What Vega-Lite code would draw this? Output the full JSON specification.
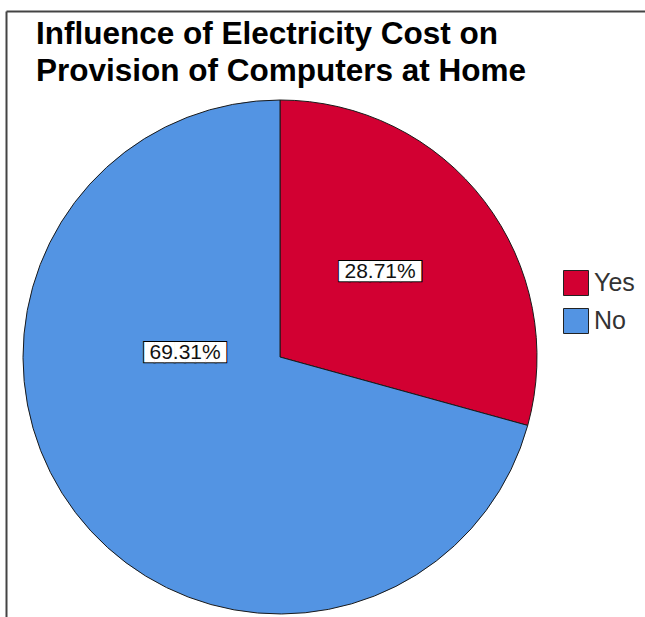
{
  "$schema": "https://vega.github.io/schema/vega-lite/v6.json",
  "autosize": {"type": "none"},
  "padding": {"left": 6, "top": 11, "right": 91, "bottom": -86},
  "width": 548,
  "height": 692,
  "background": "white",
  "config": {"view": {"stroke": null}, "font": "Liberation Sans"},
  "title": {
    "text": ["Influence of Electricity Cost on", "Provision of Computers at Home"],
    "anchor": "start",
    "frame": "group",
    "orient": "top",
    "offset": -36,
    "dy": 65,
    "baseline": "alphabetic",
    "lineHeight": 37,
    "dx": 30,
    "font": "Liberation Sans",
    "fontSize": 31.5,
    "fontWeight": "bold",
    "color": "#000000"
  },
  "data": {
    "values": [
      {"cat": "Yes", "pct": 0.2871, "k": 1},
      {"cat": "No", "pct": 0.6931, "k": 2}
    ]
  },
  "layer": [
    {
      "mark": {"type": "point", "opacity": 0},
      "encoding": {
        "x": {"field": "pct", "type": "quantitative", "scale": {"range": [0, 700]},
          "axis": {"orient": "top", "domainColor": "#444444", "domainWidth": 2, "labels": false, "ticks": false, "grid": false, "title": null}},
        "y": {"field": "pct", "type": "quantitative", "scale": {"range": [700, 0]},
          "axis": {"orient": "left", "domainColor": "#444444", "domainWidth": 2, "labels": false, "ticks": false, "grid": false, "title": null}}
      }
    },
    {
      "encoding": {
        "theta": {"field": "pct", "type": "quantitative", "stack": true},
        "order": {"field": "k", "type": "quantitative"}
      },
      "layer": [
        {
          "mark": {"type": "arc", "radius": 257, "stroke": "#1a1a1a", "strokeWidth": 1},
          "encoding": {
            "color": {
              "field": "cat", "type": "nominal",
              "scale": {"domain": ["Yes", "No"], "range": ["#D20032", "#5394E3"]},
              "legend": {
                "orient": "none", "legendX": 557, "legendY": 259, "title": null,
                "padding": 0, "symbolType": "square", "symbolSize": 625,
                "symbolStrokeColor": "#222222", "symbolStrokeWidth": 1,
                "labelFont": "Liberation Sans", "labelFontSize": 25, "labelColor": "#333333",
                "labelOffset": 5, "rowPadding": 8
              }
            }
          }
        },
        {
          "mark": {"type": "text", "text": "████████", "font": "DejaVu Sans Mono", "fontSize": 17, "fill": "#000000", "stroke": "#000000", "strokeWidth": 2, "radius": 131, "thetaOffset": -0.051, "align": "center", "baseline": "middle"},
          "encoding": {"opacity": {"condition": {"test": "datum.cat === 'Yes'", "value": 1}, "value": 0}}
        },
        {
          "mark": {"type": "text", "text": "████████", "font": "DejaVu Sans Mono", "fontSize": 17, "fill": "#ffffff", "radius": 131, "thetaOffset": -0.051, "align": "center", "baseline": "middle"},
          "encoding": {"opacity": {"condition": {"test": "datum.cat === 'Yes'", "value": 1}, "value": 0}}
        },
        {
          "mark": {"type": "text", "font": "Liberation Sans", "fontSize": 21, "color": "#111111", "radius": 131, "thetaOffset": -0.051, "align": "center", "baseline": "middle"},
          "encoding": {
            "text": {"field": "pct", "type": "quantitative", "format": ".2%"},
            "opacity": {"condition": {"test": "datum.cat === 'Yes'", "value": 1}, "value": 0}
          }
        },
        {
          "mark": {"type": "text", "text": "████████", "font": "DejaVu Sans Mono", "fontSize": 17, "fill": "#000000", "stroke": "#000000", "strokeWidth": 2, "radius": 95, "thetaOffset": 0.693, "align": "center", "baseline": "middle"},
          "encoding": {"opacity": {"condition": {"test": "datum.cat === 'No'", "value": 1}, "value": 0}}
        },
        {
          "mark": {"type": "text", "text": "████████", "font": "DejaVu Sans Mono", "fontSize": 17, "fill": "#ffffff", "radius": 95, "thetaOffset": 0.693, "align": "center", "baseline": "middle"},
          "encoding": {"opacity": {"condition": {"test": "datum.cat === 'No'", "value": 1}, "value": 0}}
        },
        {
          "mark": {"type": "text", "font": "Liberation Sans", "fontSize": 21, "color": "#111111", "radius": 95, "thetaOffset": 0.693, "align": "center", "baseline": "middle"},
          "encoding": {
            "text": {"field": "pct", "type": "quantitative", "format": ".2%"},
            "opacity": {"condition": {"test": "datum.cat === 'No'", "value": 1}, "value": 0}
          }
        }
      ]
    }
  ]
}
